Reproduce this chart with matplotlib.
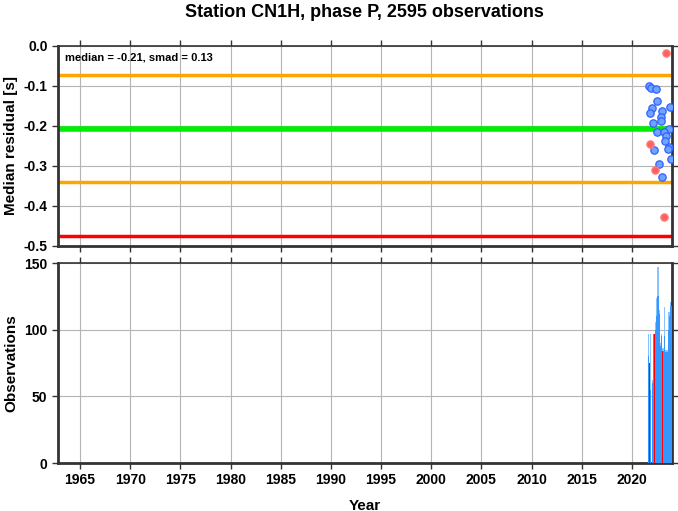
import matplotlib
matplotlib.use('Agg')
import matplotlib.pyplot as plt
import numpy as np

plt.rcParams['font.family'] = ['Liberation Sans', 'DejaVu Sans']

# residuals (decimal year, median residual [s])
res_year = [2021.70, 2021.90, 2022.40, 2022.50, 2022.00, 2023.00, 2023.80, 2021.80,
            2022.90, 2022.90, 2022.10, 2023.70, 2022.50, 2023.20, 2023.40, 2023.30,
            2023.70, 2023.60, 2022.20, 2023.90, 2022.70, 2023.00]
res_val = [-0.100, -0.104, -0.108, -0.137, -0.155, -0.162, -0.152, -0.168,
           -0.178, -0.188, -0.193, -0.207, -0.215, -0.216, -0.225, -0.238,
           -0.253, -0.258, -0.259, -0.282, -0.294, -0.328]
# outliers
out_year = [2023.40, 2021.80, 2022.30, 2023.20]
out_val = [-0.018, -0.244, -0.311, -0.427]

median = -0.207
smad = 0.134

# observations per bin
bin_year = [2021.68, 2021.87, 2022.07, 2022.22, 2022.37, 2022.47, 2022.62, 2022.74, 2022.87,
            2022.97, 2023.12, 2023.24, 2023.37, 2023.51, 2023.63, 2023.76, 2023.91]
obs_all = [97, 97, 62, 97, 106, 124, 147, 115, 90, 97, 86, 117, 85, 85, 113, 113, 121]
obs_used = [80, 55, 60, 97, 100, 110, 125, 112, 88, 95, 84, 95, 83, 83, 100, 110, 118]
bad_year = [2021.77, 2022.25, 2023.08, 2023.40]
obs_bad = [75, 97, 84, 112]

ylabels_top = ['-0.5', '-0.4', '-0.3', '-0.2', '-0.1', '0.0']

fig = plt.figure(figsize=(6.78, 5.11), dpi=100)
ax1 = fig.add_axes([0.0855, 0.5186, 0.9056, 0.3914])
ax2 = fig.add_axes([0.0855, 0.0939, 0.9056, 0.3914])

xlim = (1962.8, 2024.0)
for ax in (ax1, ax2):
    ax.set_xlim(*xlim)
    ax.set_xticks(np.arange(1965, 2021, 5))
    ax.grid(color='#b4b4b4', linewidth=0.8)
    ax.set_axisbelow(True)
    ax.tick_params(direction='out', length=4, width=1, top=True, right=True,
                   labelsize=10, color='#333333')
    for s in ax.spines.values():
        s.set_color('#333333')
        s.set_linewidth(1.2)
    ax.spines['left'].set_linewidth(2)
    ax.spines['right'].set_linewidth(2)
    ax.spines['bottom'].set_linewidth(2)

# top panel
ax1.axhline(median + smad, color='#ffa500', lw=2.5, zorder=2)
ax1.axhline(median - smad, color='#ffa500', lw=2.5, zorder=2)
ax1.axhline(median - 2 * smad, color='#ff0000', lw=2.5, zorder=2)
ax1.axhline(median, color='#00ee00', lw=4, zorder=2)
ax1.scatter(res_year, res_val, s=28, facecolor='#6fa3ff', edgecolor='#2e62ff',
            linewidth=0.9, zorder=3)
ax1.scatter(out_year, out_val, s=28, facecolor='#ff6060', edgecolor='#ff8080',
            linewidth=0.9, zorder=3)
ax1.set_ylim(-0.5, 0.0)
ax1.set_yticks(np.linspace(-0.5, 0.0, 6))
ax1.set_yticklabels(ylabels_top, fontweight='bold')
ax1.set_xticklabels([])
ax1.set_ylabel('Median residual [s]', fontsize=11, fontweight='bold')
ax1.text(0.012, 0.965, 'median = -0.21, smad = 0.13', transform=ax1.transAxes,
         fontsize=8, fontweight='bold', va='top', ha='left')

# bottom panel
ax2.bar(bin_year, obs_all, width=0.15, color='#88c2ff', zorder=2)
ax2.bar(bin_year, obs_used, width=0.15, color='#3497ff', zorder=3)
ax2.bar(bad_year, obs_bad, width=0.08, color='#ff0000', zorder=4)
ax2.set_ylim(0, 150)
ax2.set_yticks([0, 50, 100, 150])
ax2.set_yticklabels(['0', '50', '100', '150'], fontweight='bold')
ax2.set_xticklabels([str(y) for y in range(1965, 2021, 5)], fontweight='bold')
ax2.set_ylabel('Observations', fontsize=11, fontweight='bold')
ax2.set_xlabel('Year', fontsize=11, fontweight='bold', labelpad=8)

fig.suptitle('Station CN1H, phase P, 2595 observations', x=0.538, y=0.992,
             fontsize=13, fontweight='bold')

fig.savefig('out.png', dpi=100)
